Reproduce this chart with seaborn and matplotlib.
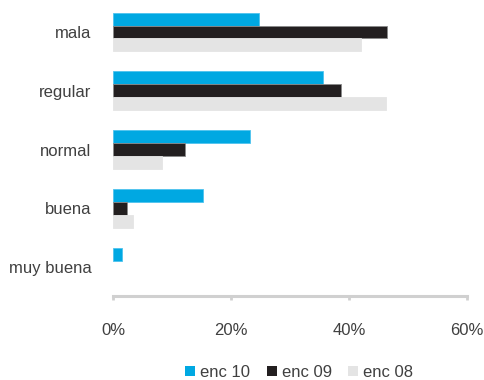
import pandas as pd
import matplotlib.pyplot as plt
import seaborn as sns
from matplotlib.patches import Patch
from matplotlib.ticker import FuncFormatter

# --- datos ---
categorias = ['mala', 'regular', 'normal', 'buena', 'muy buena']
encuestas = ['enc 10', 'enc 09', 'enc 08']
enc_10 = [24.7, 35.6, 23.2, 15.3, 1.5]
enc_09 = [46.5, 38.6, 12.2, 2.4, 0.0]
enc_08 = [42.0, 46.3, 8.3, 3.4, 0.0]

colores = ['#00A8E2', '#231F20', '#E4E4E4']
bordes = ['#4FC3EE', '#8A8A8A', '#E4E4E4']

df = pd.DataFrame({
    'categoria': categorias * 3,
    'encuesta': [e for e in encuestas for _ in categorias],
    'valor': enc_10 + enc_09 + enc_08,
})

sns.set_style('white')
plt.rcParams['font.family'] = ['Liberation Sans', 'DejaVu Sans']

fig = plt.figure(figsize=(4.85, 3.8), dpi=100)
ax = fig.add_axes([0.233, 0.22, 0.730, 0.773])

sns.barplot(data=df, y='categoria', x='valor', hue='encuesta', order=categorias,
            hue_order=encuestas, palette=colores, saturation=1, width=0.66,
            orient='h', ax=ax, legend=False)

# bordes de las barras (sin borde en las barras de valor 0)
for i, cont in enumerate(ax.containers):
    for barra in cont:
        barra.set_edgecolor(bordes[i])
        barra.set_linewidth(0.6 if barra.get_width() > 0 else 0)

ax.set_xlim(0, 60)
ax.set_ylim(4.5, -0.5)
ax.set_xticks([0, 20, 40, 60])
ax.xaxis.set_major_formatter(FuncFormatter(lambda v, p: f'{v:.0f}%'))
ax.set_xlabel('')
ax.set_ylabel('')

for lado in ['top', 'right', 'left']:
    ax.spines[lado].set_visible(False)
ax.spines['bottom'].set_color('#D0D0D0')
ax.spines['bottom'].set_linewidth(2.2)

ax.tick_params(axis='x', bottom=True, length=3, width=2, color='#D0D0D0',
               labelsize=12, labelcolor='#404040', pad=16)
ax.tick_params(axis='y', left=False, labelsize=12, labelcolor='#404040', pad=12)

handles = [Patch(facecolor=c, edgecolor='none') for c in colores]
fig.legend(handles, encuestas, loc='center', bbox_to_anchor=(0.617, 0.02),
           ncol=3, frameon=False, fontsize=12, labelcolor='#404040',
           handlelength=0.6, handleheight=0.6, handletextpad=0.3,
           columnspacing=1.0)

plt.savefig('out.png', dpi=100)
